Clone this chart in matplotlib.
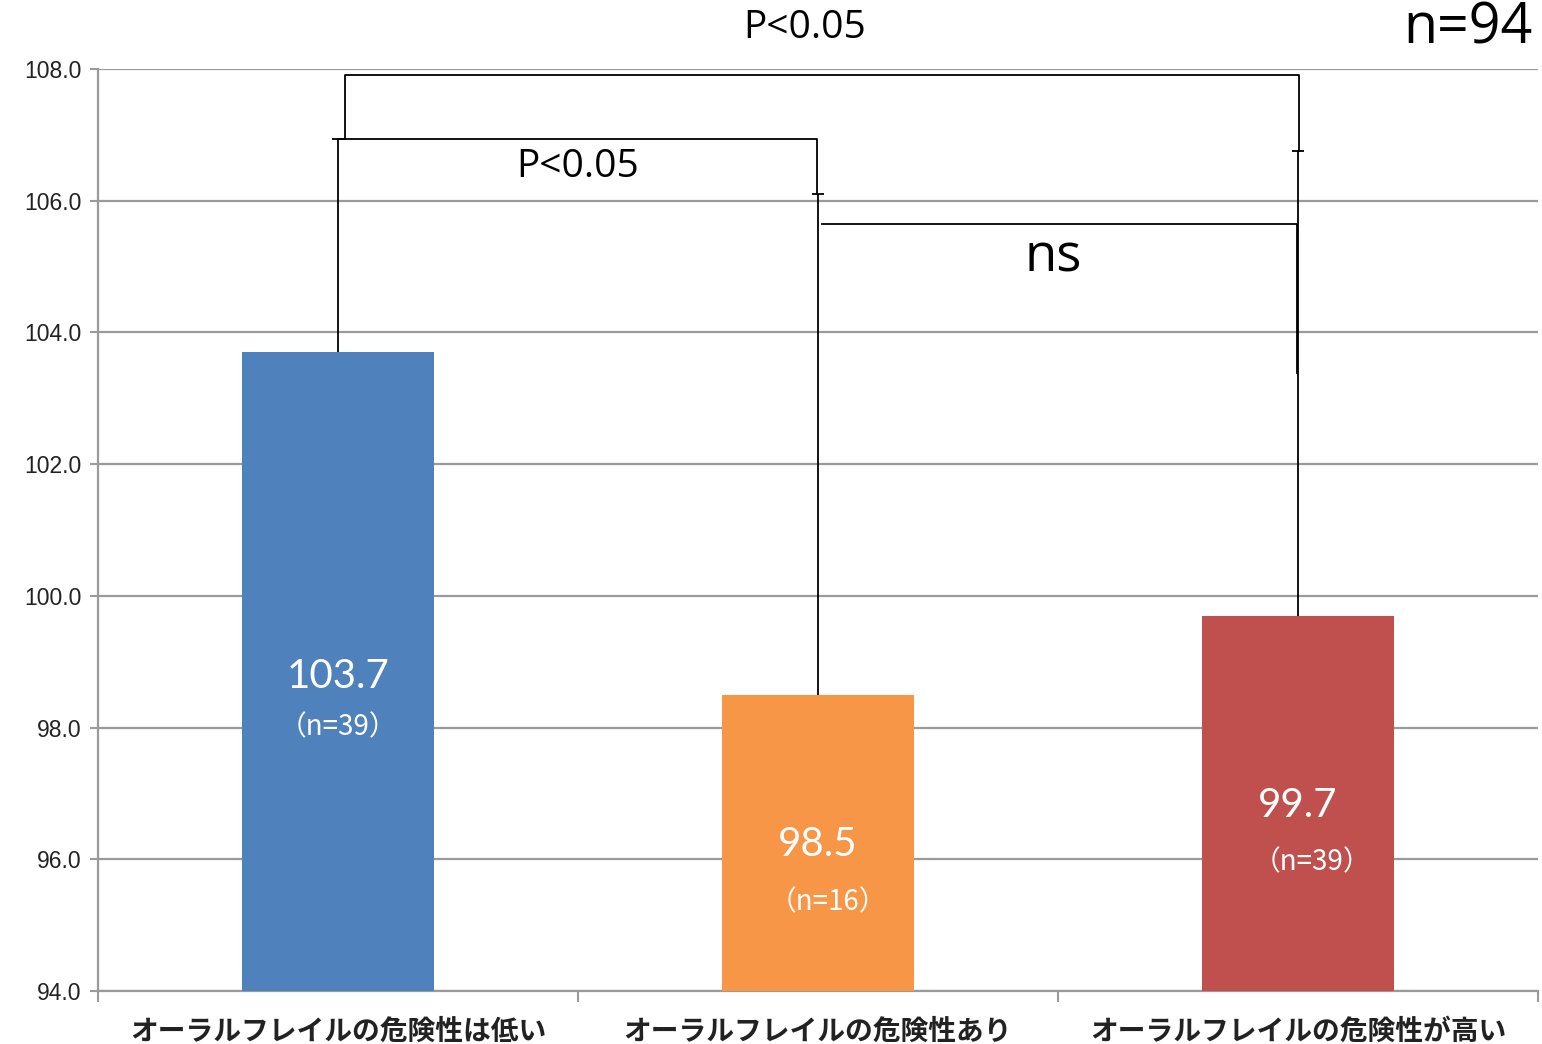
import numpy as np
import matplotlib
matplotlib.use("Agg")
from matplotlib import pyplot as plt

plt.rcParams['font.family'] = ['Noto Sans CJK JP', 'DejaVu Sans']

# data
categories = ["オーラルフレイルの危険性は低い", "オーラルフレイルの危険性あり", "オーラルフレイルの危険性が高い"]
means = [103.7, 98.5, 99.7]
upper_err = [3.24, 7.6, 7.06]
counts = [39, 16, 39]
total_n = 94
colors = ["#4F81BD", "#F79646", "#C0504D"]

fig = plt.figure(figsize=(15.42, 10.44), dpi=100)
ax = fig.add_axes([0.0636, 0.0508, 0.9338, 0.8831])

x = np.arange(len(categories))
ax.bar(x, np.array(means) - 94.0, bottom=94.0, width=0.4, color=colors, zorder=5)
# lower part tucked under the bar so only the upper cap shows
ax.errorbar(x, means, yerr=[np.full(len(means), 0.1), upper_err], fmt='none',
            ecolor='black', elinewidth=1.3, capsize=4, capthick=1.3, zorder=4)

ax.set_xlim(-0.5, 2.5)
ax.set_ylim(94, 108)
ax.set_yticks(np.arange(94, 108.1, 2))
ax.set_yticklabels(["%.1f" % v for v in np.arange(94, 108.1, 2)],
                   family='Liberation Sans', fontsize=16.5, color='#222222')
ax.yaxis.grid(True, color='#9a9a9a', linewidth=1.6, zorder=0)
ax.set_axisbelow(True)
ax.tick_params(axis='y', length=6, width=1.5, color='#9a9a9a', pad=6)

ax.set_xticks(x)
ax.set_xticklabels(categories, fontsize=20, fontweight='bold', color='#222222')
ax.tick_params(axis='x', length=0, pad=19)
ax.set_xticks([-0.5, 0.5, 1.5, 2.5], minor=True)
ax.tick_params(axis='x', which='minor', length=8, width=1.5, color='#9a9a9a')

for s in ['top', 'right']:
    ax.spines[s].set_visible(False)
for s in ['left', 'bottom']:
    ax.spines[s].set_color('#9a9a9a')
    ax.spines[s].set_linewidth(1.6)

# bar value labels
val_pos = [(0.0, 98.78), (1.0, 96.22), (2.0, 96.81)]
n_pos = [(0.0, 98.01), (1.02, 95.35), (2.03, 95.96)]
for i in range(len(means)):
    ax.text(val_pos[i][0], val_pos[i][1], "%.1f" % means[i], color='white',
            ha='center', va='center', fontsize=29, family='Lato', zorder=6)
    ax.text(n_pos[i][0], n_pos[i][1], "（n=%d）" % counts[i], color='white',
            ha='center', va='center', fontsize=20, zorder=6)

# significance brackets
lk = dict(color='black', linewidth=1.3, zorder=4, clip_on=False)
ax.plot([0.015, 0.015, 2.002, 2.002], [106.94, 107.91, 107.91, 106.76], **lk)
ax.plot([0.0, 0.998, 0.998], [106.94, 106.94, 106.1], **lk)
ax.plot([1.008, 1.998, 1.998], [105.65, 105.65, 103.38], **lk)

ax.text(0.5, 106.51, "P<0.05", ha='center', va='center', fontsize=28, family='Open Sans')
ax.text(1.49, 105.13, "ns", ha='center', va='center', fontsize=38, family='Open Sans')
fig.text(0.522, 0.973, "P<0.05", ha='center', va='center', fontsize=28, family='Open Sans')
fig.text(0.994, 0.972, "n=%d" % total_n, ha='right', va='center', fontsize=40, family='Open Sans')

plt.savefig("out.png", dpi=100)
